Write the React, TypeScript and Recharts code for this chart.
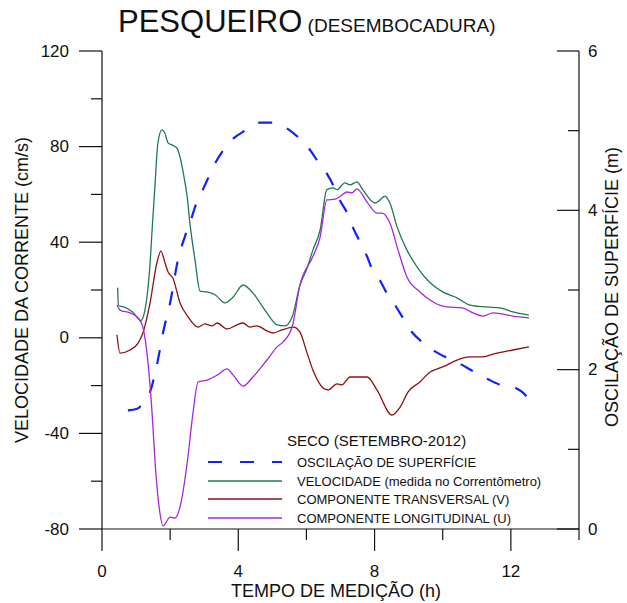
import React from "react";
import { ComposedChart, Line, XAxis, YAxis } from "recharts";

const FONT = '"Liberation Sans", Arial, Helvetica, sans-serif';

// tempo de medição (h) e valores
const velHours = [0.46, 0.48, 0.62, 0.9, 1.14, 1.26, 1.41, 1.47, 1.56, 1.64, 1.76, 1.85, 1.94, 2.05, 2.2, 2.29, 2.38, 2.5, 2.58, 2.73, 2.88, 3.08, 3.32, 3.61, 3.85, 4.14, 4.43, 4.84, 5.14, 5.37, 5.58, 5.81, 6.02, 6.19, 6.4, 6.6, 6.78, 6.9, 7.13, 7.28, 7.48, 7.66, 8.01, 8.16, 8.3, 8.45, 8.66, 8.95, 9.25, 9.63, 10.0, 10.42, 10.8, 11.3, 11.68, 12.06, 12.53];
const velValues = [21, 13.5, 13, 10.8, 7.2, 11.6, 31, 45, 65, 81.5, 87, 85.5, 81.5, 80.7, 79.4, 75.6, 69.4, 59, 48, 32.5, 19.5, 19.2, 18, 14.6, 17.1, 22.1, 18.7, 10.4, 5.4, 5, 8.7, 22, 29.2, 36.7, 45, 62, 62.7, 62, 64.8, 64, 65.2, 61.8, 56.4, 57.7, 59.3, 56.4, 46.4, 36.7, 29.6, 23, 19.2, 16.7, 13.7, 12.9, 12.5, 10.8, 9.5];

const transHours = [0.44, 0.53, 0.82, 1.06, 1.2, 1.41, 1.61, 1.73, 1.85, 1.94, 2.08, 2.29, 2.53, 2.82, 3.02, 3.23, 3.38, 3.67, 3.96, 4.14, 4.34, 4.55, 4.84, 5.02, 5.28, 5.62, 5.81, 6.02, 6.19, 6.49, 6.63, 6.9, 7.04, 7.28, 7.78, 8.07, 8.51, 8.75, 8.98, 9.33, 9.63, 9.92, 10.12, 10.42, 10.8, 11.15, 11.48, 12.06, 12.53];
const transValues = [1.2, -6.4, -5.1, -2.2, 2, 14.6, 31.3, 36.3, 31.3, 27.5, 25, 14.6, 8.7, 4.5, 5.8, 5, 6.2, 3.7, 5.4, 6.2, 4.5, 5, 2.9, 2, 3.3, 4.5, 2.4, -6.4, -13.5, -21, -21.8, -19.3, -19.7, -16.4, -16.4, -21.8, -32.3, -29, -22.7, -18.5, -14.3, -12.6, -11.4, -9.3, -8, -8, -6.8, -5.1, -3.8];

const longHours = [0.44, 0.53, 0.82, 1.06, 1.2, 1.35, 1.47, 1.56, 1.7, 1.79, 2.0, 2.14, 2.29, 2.5, 2.67, 2.82, 3.08, 3.38, 3.67, 3.85, 4.14, 4.43, 4.84, 5.14, 5.31, 5.58, 5.81, 6.19, 6.4, 6.6, 6.84, 7.04, 7.19, 7.34, 7.48, 7.78, 8.07, 8.22, 8.45, 8.69, 8.95, 9.33, 9.72, 10.12, 10.57, 10.89, 11.18, 11.48, 12.06, 12.53];
const longValues = [13.7, 11.6, 10.4, 8.3, 4.5, -10.5, -31.5, -52.4, -73.3, -78.7, -75, -75.4, -70.8, -52.4, -31.5, -18.5, -17.7, -15.6, -13, -15.6, -20.2, -16.4, -9.3, -3.8, -1.8, 4.5, 22, 34, 42, 57.7, 58, 59.7, 61, 60.6, 62.3, 56.8, 52.2, 52.2, 48, 36.7, 25.4, 19.2, 15, 12.9, 12.5, 10.4, 9.1, 10.4, 9.1, 8.3];

const surfHours = [0.76, 1.03, 1.17, 1.41, 1.64, 1.79, 2.0, 2.23, 2.44, 2.64, 2.73, 2.96, 3.11, 3.32, 3.52, 3.85, 4.2, 4.64, 5.0, 5.46, 5.75, 6.1, 6.31, 6.6, 6.78, 6.99, 7.19, 7.37, 7.54, 7.78, 7.9, 8.16, 8.36, 8.63, 8.83, 9.1, 9.39, 9.77, 10.12, 10.57, 10.89, 11.33, 11.68, 12.18, 12.33, 12.47];
const surfValues = [1.49, 1.51, 1.56, 1.72, 2.12, 2.46, 2.84, 3.38, 3.68, 3.92, 4.04, 4.26, 4.4, 4.59, 4.73, 4.9, 5.0, 5.1, 5.1, 5.02, 4.92, 4.76, 4.63, 4.46, 4.32, 4.12, 3.97, 3.78, 3.63, 3.42, 3.29, 3.12, 2.96, 2.79, 2.65, 2.47, 2.35, 2.23, 2.15, 2.06, 1.98, 1.88, 1.81, 1.76, 1.72, 1.66];

const xTicks = [0, 2, 4, 6, 8, 10, 12, 14];
const leftTicks = [-80, -60, -40, -20, 0, 20, 40, 60, 80, 100, 120];
const rightTicks = [0, 1, 2, 3, 4, 5, 6];

const pair = (hs: number[], vs: number[]) => hs.map((h, i) => ({ h, v: vs[i] }));

const velData = pair(velHours, velValues);
const transData = pair(transHours, transValues);
const longData = pair(longHours, longValues);
const surfData = pair(surfHours, surfValues);

const COLORS = {
  surf: "#1020ff",
  vel: "#1f7a4c",
  trans: "#8e1010",
  long: "#a526e0",
};

const AXIS = "#111";

function LeftTick({ x, y, payload }: any) {
  const major = payload.value % 40 === 0;
  return (
    <g>
      <line x1={x - (major ? 23 : 11)} x2={x} y1={y} y2={y} stroke={AXIS} strokeWidth={1.2} />
      {major && (
        <text x={x - 33} y={y} textAnchor="end" dominantBaseline="central" fontSize={17} fontFamily={FONT} fill="#111">
          {payload.value}
        </text>
      )}
    </g>
  );
}

function RightTick({ x, y, payload }: any) {
  const major = payload.value % 2 === 0;
  return (
    <g>
      <line x1={x - (major ? 22 : 11)} x2={x} y1={y} y2={y} stroke={AXIS} strokeWidth={1.2} />
      {major && (
        <text x={x + 9} y={y} textAnchor="start" dominantBaseline="central" fontSize={17} fontFamily={FONT} fill="#111">
          {payload.value}
        </text>
      )}
    </g>
  );
}

function BottomTick({ x, y, payload }: any) {
  const major = payload.value % 4 === 0;
  return (
    <g>
      <line x1={x} x2={x} y1={y} y2={y + (major ? 22 : 11)} stroke={AXIS} strokeWidth={1.2} />
      {major && (
        <text x={x} y={y + 42} textAnchor="middle" dominantBaseline="central" fontSize={17} fontFamily={FONT} fill="#111">
          {payload.value}
        </text>
      )}
    </g>
  );
}

const legendRows = [
  { label: "OSCILAÇÃO DE SUPERFÍCIE", color: COLORS.surf, dash: true, y: 462 },
  { label: "VELOCIDADE (medida no Correntômetro)", color: COLORS.vel, dash: false, y: 481 },
  { label: "COMPONENTE TRANSVERSAL (V)", color: COLORS.trans, dash: false, y: 499 },
  { label: "COMPONENTE LONGITUDINAL (U)", color: COLORS.long, dash: false, y: 518 },
];

export default function App() {
  return (
    <div style={{ position: "absolute", left: 0, top: 0, width: 627, height: 603, background: "#fff" }}>
      <ComposedChart
        width={627}
        height={603}
        margin={{ top: 51, right: 0, left: 0, bottom: 0 }}
      >
        <XAxis
          type="number"
          dataKey="h"
          domain={[0, 14]}
          ticks={xTicks}
          interval={0}
          height={74}
          tickSize={0}
          tickMargin={0}
          tick={<BottomTick />}
          axisLine={{ stroke: AXIS, strokeWidth: 1.2 }}
          allowDataOverflow
        />
        <YAxis
          yAxisId="left"
          type="number"
          domain={[-80, 120]}
          ticks={leftTicks}
          interval={0}
          width={102}
          tickSize={0}
          tickMargin={0}
          tick={<LeftTick />}
          axisLine={{ stroke: AXIS, strokeWidth: 1.2 }}
          allowDataOverflow
        />
        <YAxis
          yAxisId="right"
          orientation="right"
          type="number"
          domain={[0, 6]}
          ticks={rightTicks}
          interval={0}
          width={48}
          tickSize={0}
          tickMargin={0}
          tick={<RightTick />}
          axisLine={{ stroke: AXIS, strokeWidth: 1.2 }}
          allowDataOverflow
        />
        <Line
          yAxisId="right"
          data={surfData}
          dataKey="v"
          type="monotone"
          stroke={COLORS.surf}
          strokeWidth={2.2}
          strokeDasharray="14 16"
          dot={false}
          activeDot={false}
          isAnimationActive={false}
        />
        <Line yAxisId="left" data={velData} dataKey="v" type="monotone" stroke={COLORS.vel} strokeWidth={1.3} dot={false} activeDot={false} isAnimationActive={false} />
        <Line yAxisId="left" data={transData} dataKey="v" type="monotone" stroke={COLORS.trans} strokeWidth={1.3} dot={false} activeDot={false} isAnimationActive={false} />
        <Line yAxisId="left" data={longData} dataKey="v" type="monotone" stroke={COLORS.long} strokeWidth={1.3} dot={false} activeDot={false} isAnimationActive={false} />
      </ComposedChart>

      <svg
        width={627}
        height={603}
        style={{ position: "absolute", left: 0, top: 0, pointerEvents: "none" }}
        fontFamily={FONT}
      >
        <text x={118} y={32} fill="#111">
          <tspan fontSize={31}>PESQUEIRO</tspan>
          <tspan fontSize={19}> (DESEMBOCADURA)</tspan>
        </text>
        <text
          x={22}
          y={290}
          fontSize={18}
          fill="#111"
          textAnchor="middle"
          dominantBaseline="central"
          transform="rotate(-90 22 290)"
        >
          VELOCIDADE DA CORRENTE (cm/s)
        </text>
        <text
          x={612}
          y={287}
          fontSize={18}
          fill="#111"
          textAnchor="middle"
          dominantBaseline="central"
          transform="rotate(-90 612 287)"
        >
          OSCILAÇÃO DE SUPERFÍCIE (m)
        </text>
        <text x={336} y={597} fontSize={18} fill="#111" textAnchor="middle">
          TEMPO DE MEDIÇÃO (h)
        </text>

        <text x={287} y={446} fontSize={15} fill="#111">
          SECO (SETEMBRO-2012)
        </text>
        {legendRows.map((r) => (
          <g key={r.label}>
            <line
              x1={208}
              x2={282}
              y1={r.y}
              y2={r.y}
              stroke={r.color}
              strokeWidth={r.dash ? 2.2 : 1.3}
              strokeDasharray={r.dash ? "14 18" : undefined}
            />
            <text x={297} y={r.y} fontSize={13} fill="#111" dominantBaseline="central">
              {r.label}
            </text>
          </g>
        ))}
      </svg>
    </div>
  );
}
